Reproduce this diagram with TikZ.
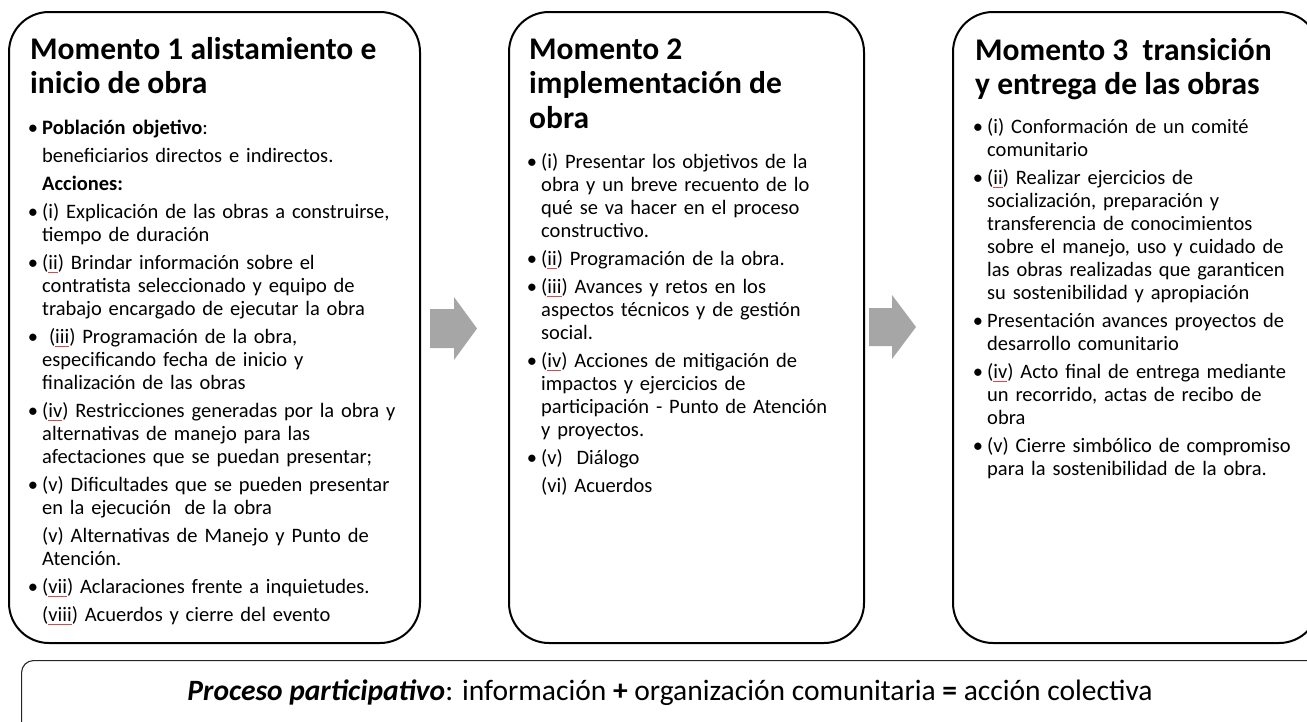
\documentclass[tikz,border=0pt]{standalone}
\usepackage{fontspec}
\setmainfont{Carlito}
\definecolor{arrowgray}{RGB}{166,166,166}
\definecolor{splred}{RGB}{225,70,70}
\newsavebox\splbox
\newcommand\spl[1]{\sbox\splbox{#1}\rlap{\textcolor{splred}{\rule[-3pt]{\wd\splbox}{0.5pt}}}\usebox\splbox}
\newcommand\bul{\leavevmode\llap{\textbullet\hspace{4pt}}}
\tikzset{
  panel/.style={draw=black, line width=2pt, rounded corners=40pt, anchor=north west, inner sep=0pt},
  headtxt/.style={anchor=north west, inner sep=0pt, align=left, font=\fontsize{31.5}{34.5}\selectfont\bfseries},
  bodytxt/.style={anchor=north west, inner sep=0pt, text width=400pt, align=left, font=\fontsize{20.5}{23}\selectfont},
  flowarrow/.style={fill=arrowgray}
}
\begin{document}
\begin{tikzpicture}[x=1pt,y=-1pt]
\useasboundingbox (0,0) rectangle (1307,721);
\clip (0,0) rectangle (1307,721);
% panels
\node[panel, minimum width=411pt, minimum height=631pt] (m1) at (8,11) {};
\node[panel, minimum width=355pt, minimum height=631pt] (m2) at (508,11) {};
\node[panel, minimum width=366pt, minimum height=631pt] (m3) at (952,11) {};
\node[draw=black!85, line width=1.1pt, rounded corners=12pt, anchor=north west, inner sep=0pt,
      minimum width=1320pt, minimum height=90pt] (pp) at (21,660) {};
% arrows
\fill[flowarrow] (430,309) -- (454,309) -- (454,297) -- (477,328.5) -- (454,360) -- (454,348) -- (430,348) -- cycle;
\fill[flowarrow] (869,308) -- (892,308) -- (892,295) -- (916,327) -- (892,359) -- (892,346) -- (869,346) -- cycle;
% headings
\node[headtxt] (h1) at (30,{59-24.15}) {\strut Momento 1 alistamiento e\\inicio de obra};
\node[headtxt] (h2) at (529,{59-24.15}) {\strut Momento 2\\implementación de\\obra};
\node[headtxt] (h3) at (975,{60-24.15}) {\strut Momento 3~ transición\\y entrega de las obras};
% bodies
\node[bodytxt] (b1) at (42,{134-16.1}) {\setlength{\parskip}{5pt}\strut
\bul\textbf{Población objetivo}:\par
beneficiarios directos e indirectos.\par
\textbf{Acciones:}\par
\bul(i) Explicación de las obras a construirse,\\ tiempo de duración\par
\bul(\spl{ii}) Brindar información sobre el\\ contratista seleccionado y equipo de\\ trabajo encargado de ejecutar la obra\par
\bul~(\spl{iii}) Programación de la obra,\\ especificando fecha de inicio y\\ finalización de las obras\par
\bul(\spl{iv}) Restricciones generadas por la obra y\\ alternativas de manejo para las\\ afectaciones que se puedan presentar;\par
\bul(v) Dificultades que se pueden presentar\\ en la ejecución~ de la obra\par
(v) Alternativas de Manejo y Punto de\\ Atención.\par
\bul(\spl{vii}) Aclaraciones frente a inquietudes.\par
(\spl{viii}) Acuerdos y cierre del evento};
\node[bodytxt] (b2) at (541,{168-16.1}) {\setlength{\parskip}{5pt}\strut
\bul(i) Presentar los objetivos de la\\ obra y un breve recuento de lo\\ qué se va hacer en el proceso\\ constructivo.\par
\bul(\spl{ii}) Programación de la obra.\par
\bul(\spl{iii}) Avances y retos en los\\ aspectos técnicos y de gestión\\ social.\par
\bul(\spl{iv}) Acciones de mitigación de\\ impactos y ejercicios de\\ participación - Punto de Atención\\ y proyectos.\par
\bul(v)~ Diálogo\par
(vi) Acuerdos};
\node[bodytxt] (b3) at (987,{133-16.1}) {\setlength{\parskip}{5pt}\strut
\bul(i) Conformación de un comité\\ comunitario\par
\bul(\spl{ii}) Realizar ejercicios de\\ socialización, preparación y\\ transferencia de conocimientos\\ sobre el manejo, uso y cuidado de\\ las obras realizadas que garanticen\\ su sostenibilidad y apropiación\par
\bul Presentación avances proyectos de\\ desarrollo comunitario\par
\bul(\spl{iv}) Acto final de entrega mediante\\ un recorrido, actas de recibo de\\ obra\par
\bul(v) Cierre simbólico de compromiso\\ para la sostenibilidad de la obra.};
% bottom text
\node[anchor=base, inner sep=0pt, font=\fontsize{29.5}{35}\selectfont] (pt) at (670,700)
  {\textbf{\textit{Proceso participativo}}: información \textbf{+} organización comunitaria \textbf{=} acción colectiva};
\end{tikzpicture}
\end{document}
